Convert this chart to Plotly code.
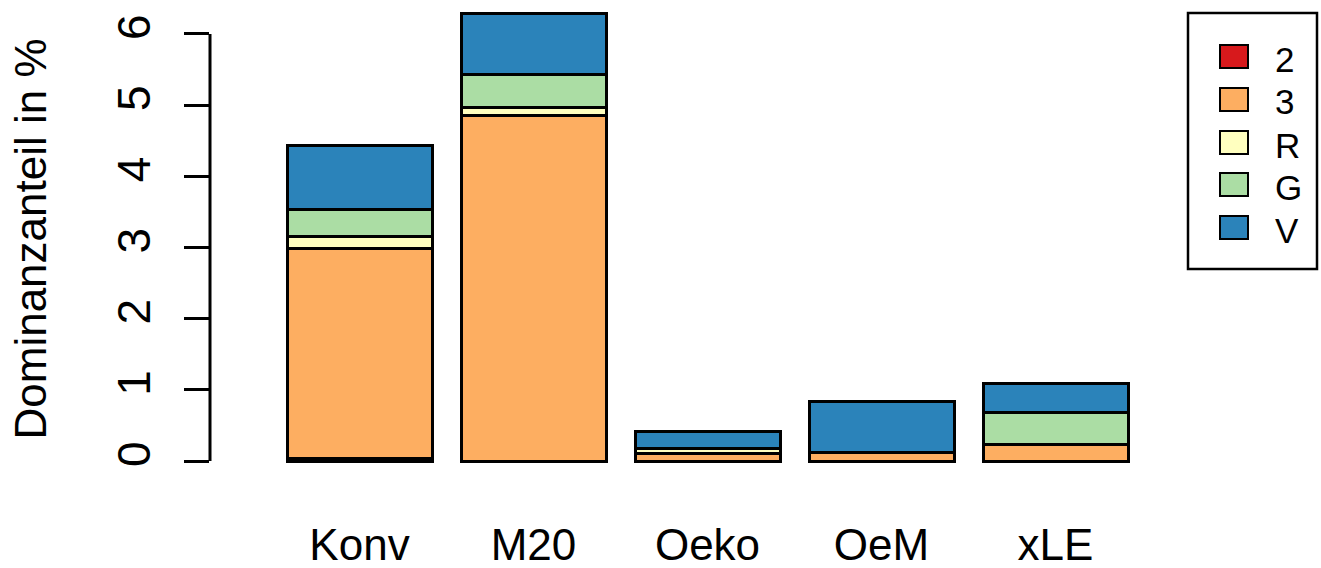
import plotly.graph_objects as go

categories = ["Konv", "M20", "Oeko", "OeM", "xLE"]
series_names = ["2", "3", "R", "G", "V"]
colors = ["#D7191C", "#FDAE61", "#FFFFBF", "#ABDDA4", "#2B83BA"]
vals_2 = [0.03, 0.0, 0.0, 0.0, 0.0]
vals_3 = [2.95, 4.85, 0.11, 0.12, 0.23]
vals_R = [0.18, 0.12, 0.07, 0.0, 0.0]
vals_G = [0.38, 0.46, 0.0, 0.0, 0.45]
vals_V = [0.90, 0.86, 0.24, 0.71, 0.41]
y_ticks = [0, 1, 2, 3, 4, 5, 6]
y_label = "Dominanzanteil in %"

series = [vals_2, vals_3, vals_R, vals_G, vals_V]

W, H = 1321, 568
L, R_, T, B = 210, 151, 0, 89
PW, PH = W - L - R_, H - T - B

# bar layout like R barplot: width 1, space 0.2
centers = [0.2 + 0.5 + 1.2 * i for i in range(len(categories))]

FONT = "Liberation Sans, Arial, sans-serif"

fig = go.Figure()
for name, col, vals in zip(series_names, colors, series):
    fig.add_trace(go.Bar(
        x=centers, y=vals, name=name, width=1.0,
        marker=dict(color=col, line=dict(color="black", width=3)),
        showlegend=False, hoverinfo="skip",
    ))

def px_x(p):
    return (p - L) / PW

def px_y(p):
    return (H - B - p) / PH

shapes = [
    dict(type="line", xref="paper", yref="y", x0=0, x1=0,
         y0=min(y_ticks), y1=max(y_ticks), line=dict(color="black", width=3)),
    # legend box
    dict(type="rect", xref="paper", yref="paper",
         x0=px_x(1188), x1=px_x(1317), y0=px_y(13), y1=px_y(269),
         line=dict(color="black", width=2.5), fillcolor="white"),
]
annotations = [
    dict(text=y_label, xref="paper", yref="paper", x=px_x(30), y=0.5,
         textangle=-90, showarrow=False, xanchor="center", yanchor="middle",
         font=dict(family=FONT, size=44, color="black")),
]
row_y = [56, 99, 142, 184, 227]
for name, col, ry in zip(series_names, colors, row_y):
    shapes.append(dict(type="rect", xref="paper", yref="paper",
                       x0=px_x(1220), x1=px_x(1248), y0=px_y(ry - 11), y1=px_y(ry + 12),
                       line=dict(color="black", width=2), fillcolor=col))
    annotations.append(dict(text=name, xref="paper", yref="paper",
                            x=px_x(1273), y=px_y(ry + 3), xanchor="left", yanchor="middle",
                            showarrow=False,
                            font=dict(family=FONT, size=35, color="black")))

fig.update_layout(
    barmode="stack",
    width=W, height=H,
    margin=dict(l=L, r=R_, t=T, b=B, pad=0, autoexpand=False),
    plot_bgcolor="white", paper_bgcolor="white",
    font=dict(family=FONT, size=44, color="black"),
    shapes=shapes, annotations=annotations,
    xaxis=dict(range=[(L - 258) / 145, (L + PW - 258) / 145],
               tickvals=centers, ticktext=categories, automargin=False,
               showgrid=False, zeroline=False, showline=False, ticks="",
               ticklabelstandoff=36,
               tickfont=dict(family=FONT, size=44, color="black")),
    yaxis=dict(range=[-18 / 71.17, 461 / 71.17], automargin=False,
               tickvals=y_ticks, ticktext=[str(v) for v in y_ticks],
               showgrid=False, zeroline=False, showline=False,
               ticks="outside", ticklen=25, tickwidth=3, tickcolor="black",
               tickangle=-90, ticklabelstandoff=16,
               tickfont=dict(family=FONT, size=46, color="black")),
)

fig.write_html(
    "out.html",
    config={"displayModeBar": False},
    post_script="document.body.style.margin='0';document.body.style.padding='0';"
                "document.body.style.overflow='hidden';",
)
